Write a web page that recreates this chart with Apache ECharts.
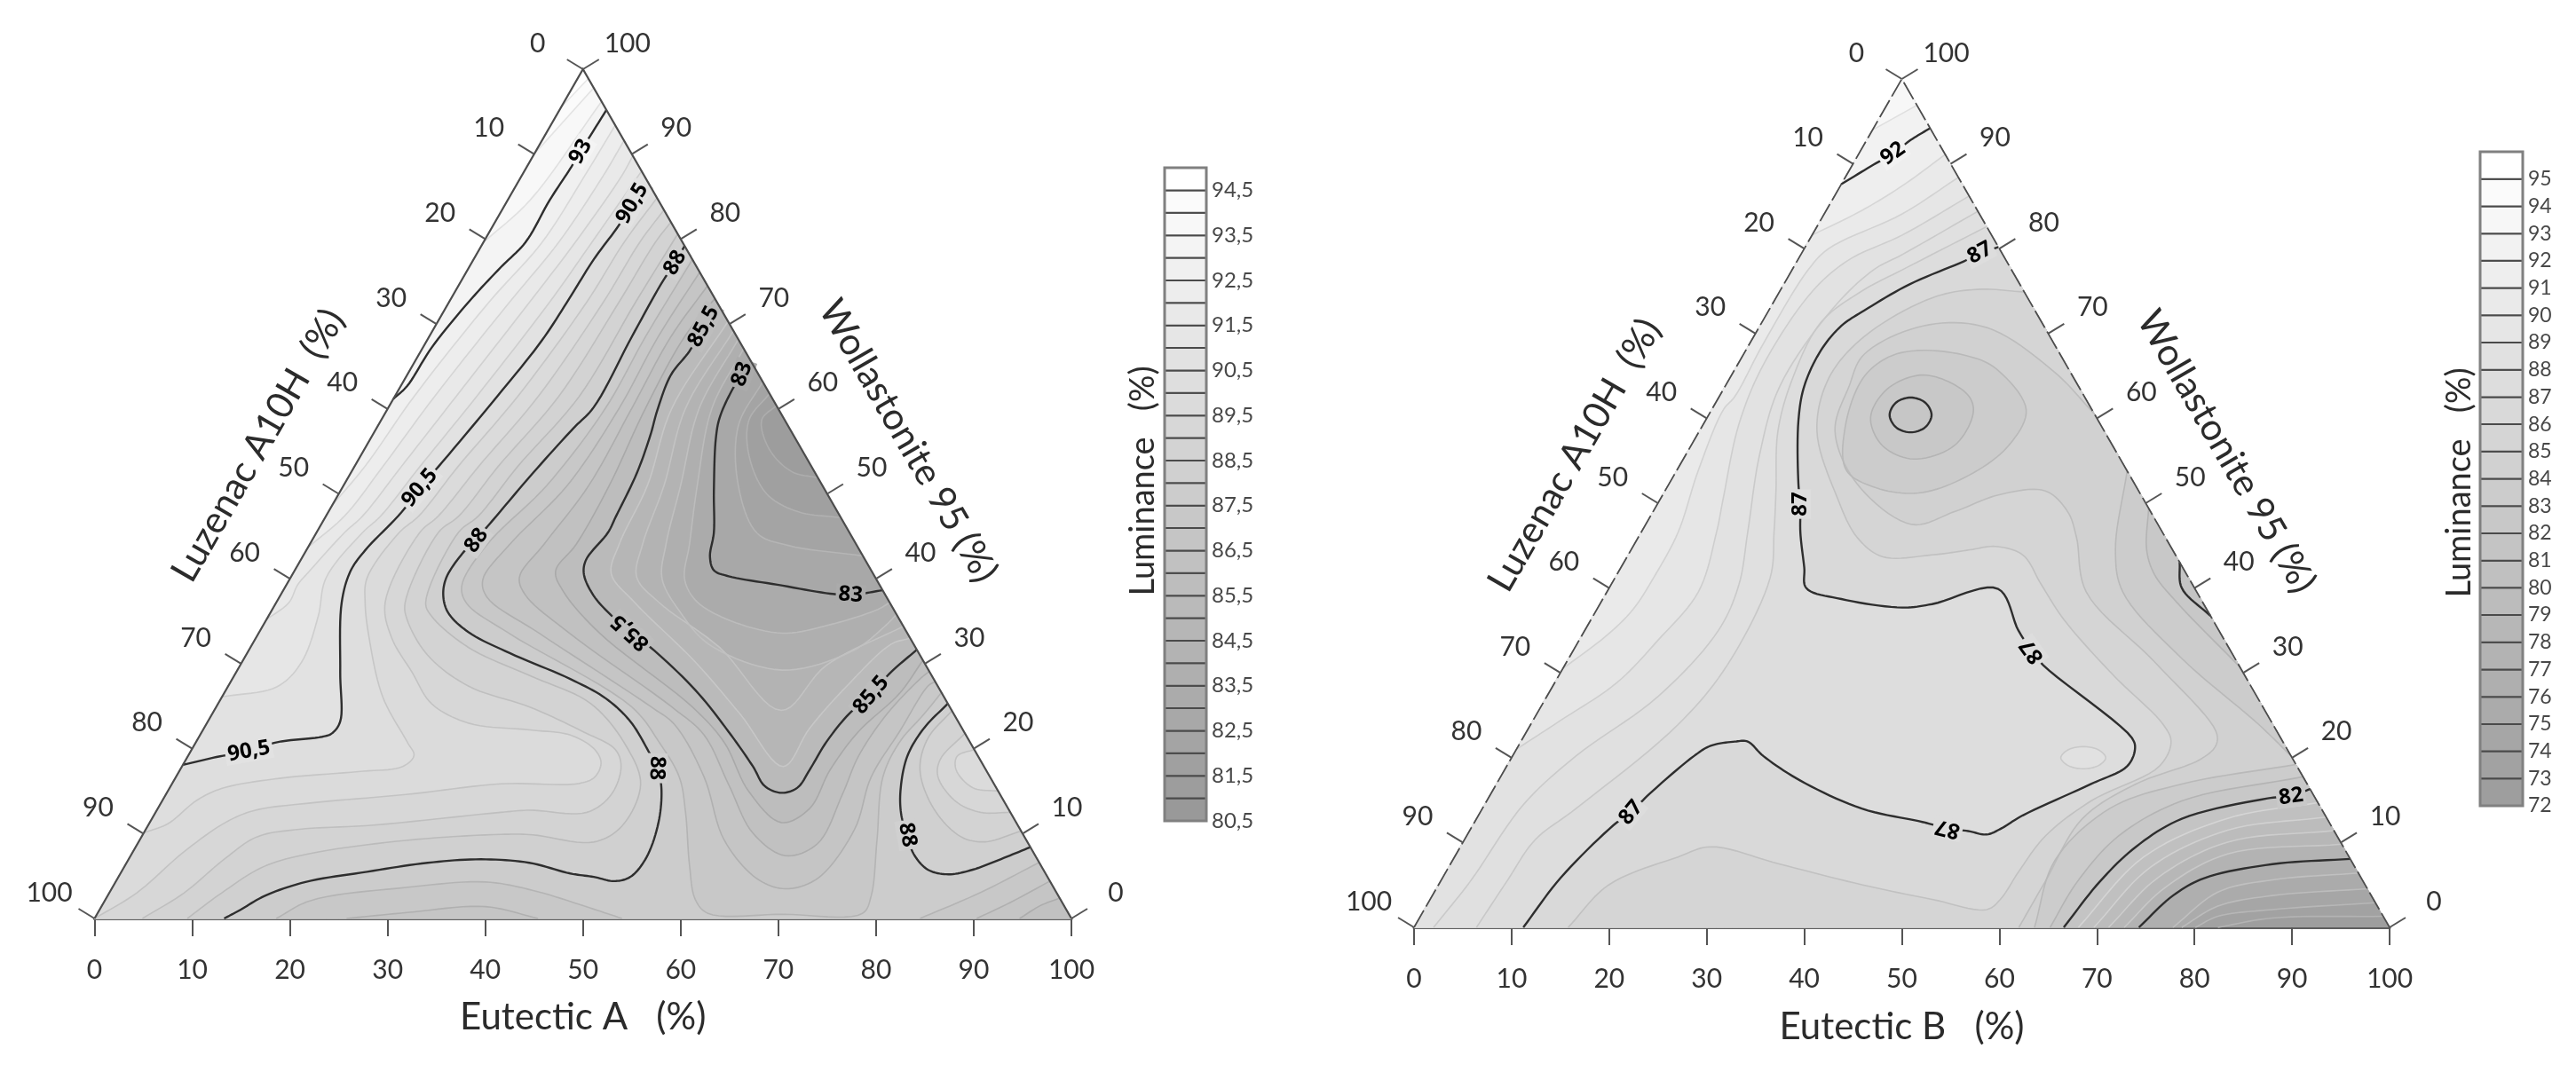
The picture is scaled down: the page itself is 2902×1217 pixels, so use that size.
<!DOCTYPE html>
<html><head><meta charset="utf-8">
<style>html,body{margin:0;background:#fff}#main{width:2902px;height:1217px;filter:blur(0.7px)}</style>
<script src="https://cdn.jsdelivr.net/npm/echarts@6/dist/echarts.min.js"></script>
</head><body><div id="main"></div>
<script>
/* All contour points are [x, w]: w = Wollastonite %, x = Eutectic % + w/2 (position along the base scale). */
const TICKS=[0,10,20,30,40,50,60,70,80,90,100];
const L_=[[0,0]], T_=[[50,100]], R_=[[100,0]];

/* ---------- Eutectic A ---------- */
const A_945=[[50.4,98.9],[48.1,95.5]];
const A_94=[[50.8,97.8],[45,90]];
const A_935=[[51.6,96.2],[44.6,84.6],[40,79.6]];
const A_93=[[52.2,95.2],[49.8,90.4],[48.7,88.3],[46.6,84.6],[44.1,79.6],[41.6,76.7],[38.3,72.6],[34.5,67.2],[32,62.7],[30.6,61.2]];
const A_925=[[53.3,93.4],[50.2,87.5],[45.8,79.6],[40.4,72.6],[32.7,61.45],[27.66,53.2],[23.7,48.65]];
const A_92=[[54.2,91.6],[52.1,87.5],[47.5,79.6],[42.5,72.6],[34.8,61.45],[29.5,53.2],[25.6,47.4],[22.86,43.7]];
const A_915=[[55.1,89.8],[54,87.5],[49.2,79.6],[44.55,72.6],[37,61.45],[31.4,53.2],[27.45,47.4],[25.6,45.45],[22,40.9],[20.8,39.3],[19.9,37.2],[17.85,35.2]];
const A_91=[[56,88],[50.9,79.6],[46.6,72.6],[39.1,61.45],[33.3,53.2],[29.3,47.4],[27.45,45.45],[23.7,40.1],[22.9,35.6],[21.2,30.2],[18.7,27.3],[13.6,26.1]];
const A_905=[[56.8,86.3],[55.06,84.2],[53.6,81.5],[51.1,77.6],[48.6,73],[45.8,68.07],[41.2,61.45],[35.2,53.2],[33.3,50.7],[31.4,47.8],[27.7,43.35],[26.2,40.9],[25.3,37.2],[25.15,29],[25.15,23.2],[24.3,21.8],[23.3,21.4],[18.7,20.76],[15.8,19.7],[12.85,19.1],[9.2,18.1]];
const A_90=[[57.6,84.84],[54.2,79.6],[50.4,72.6],[43.3,61.45],[37.2,53.2],[33.2,47.4],[31.2,45.45],[27.9,40.1],[27.7,37.2],[28.1,33.1],[29.5,26.1],[32,20.8],[32.7,19.2],[31.55,17.9],[27,17.3],[18.9,16.5],[13,15.3],[10.45,13.9],[7.5,11.15],[5.1,10.1]];
const A_895=[[58.3,83.43],[55.8,79.6],[52.1,72.6],[45.4,61.45],[39.3,53.2],[35.2,47.4],[33.3,45.45],[29.75,37.2],[30.4,33.1],[32.5,29],[34.5,25.3],[38.3,23],[44.55,22.2],[48.7,21.6],[51.2,19.9],[51.85,18.3],[51.2,16.65],[49.6,15.9],[41.6,15.85],[31.9,14.6],[22.1,13.6],[16.3,12.7],[13.4,11.3],[9.15,7.85],[4.3,3],[0.8,0.4]];
const A_89=[[59,82],[57.4,79.6],[53.7,72.6],[47.5,61.45],[41.3,53.2],[37.3,47.4],[35.2,45.45],[31.8,37.2],[32,35.2],[34.1,31],[38.3,27.35],[44.55,24.9],[50,22],[53.3,19.9],[53.9,17.9],[52.9,14.6],[50.4,12.5],[44.55,12.75],[41.6,12.5],[28.6,11],[20.5,10.45],[16.6,9.6],[13.4,7.1],[9.15,3],[4.9,0]];
const A_885=[[59.7,80.6],[55.4,72.6],[49.6,61.45],[43.3,53.2],[39.3,47.4],[37.25,45.45],[33.9,37.2],[34.5,35.6],[38.3,31.9],[44.55,28.6],[50.8,25.3],[54.4,20.35],[55.9,15.8],[54,10.9],[51.1,9],[44.84,9.85],[41.6,9.9],[31.9,9.2],[22.1,7.65],[17.3,6.1],[13,3],[9.5,0]];
const A_88=[[60.4,79.2],[59.44,77.2],[58.2,75.1],[55,68.5],[51.1,60.2],[49,57.7],[44.84,52.4],[40.4,46.4],[39.1,44.7],[37.67,43],[36,40.1],[35.7,38],[36.2,36],[38.3,33.7],[42.5,31.25],[48.7,28.2],[52.35,25.9],[54.85,23.2],[56.7,19.7],[57.56,17.7],[58,15.8],[57.8,11.7],[56.5,7.2],[54.85,4.9],[53.2,4.4],[51.1,4.9],[48.7,5.3],[44.5,6.56],[39.55,6.97],[34.1,6.56],[27.9,5.5],[21.6,4.3],[17.4,2.65],[14.9,1],[13.27,0]];
const A_88R=[[87.4,25.3],[84.9,22.4],[83.2,19.1],[82.5,15],[82.6,12.1],[83.2,9.85],[83.85,7.6],[85.3,5.75],[87.4,5.2],[89.9,5.75],[92.8,7],[95.8,8.4]];
const A_885R=[[87.8,24.46],[85.3,21.2],[84.5,17.5],[85.9,12.95],[88.65,9.65],[91.15,9.03],[94.8,10.3]];
const A_89R=[[89.1,21.8],[86.56,18.7],[86.35,16.65],[88.2,13.75],[90.7,12.5],[93.7,12.5]];
const A_895R=[[90.05,19.9],[88.3,19.1],[88.2,17.5],[89.9,15.4],[92.5,15]];
const A_875=[[61.2,77.6],[56.4,68.5],[52.3,60.08],[46.3,51],[40.2,44.05],[37.6,39.2],[38.1,37.1],[42.4,33.6],[55,24.9],[57.8,20.75],[59.86,16.65],[60.5,12.5],[60.9,6.35],[61.5,2.24],[62.8,0.6],[70.5,0.5],[78.6,0.6],[79.5,2.65],[80.1,9.25],[80.7,16.65],[82.4,20.75],[84.9,24.05],[86.7,26.6]];
const A_87=[[61.95,76.1],[57.7,68.5],[53.7,60.08],[48.4,51],[42.5,44.05],[39.75,39.9],[40.2,37.8],[45.5,33.6],[57,24.9],[59.4,22.8],[62.4,16.65],[64.45,9.25],[67.8,4.7],[70.7,3.5],[74,4.7],[77.8,10.5],[79.5,16.65],[82.4,22],[85.3,27.35],[86.05,27.9]];
const A_865=[[62.75,74.5],[59,68.5],[55,60.08],[50.6,51],[46,44.05],[43.5,40.2],[44.1,38.1],[48.6,33.6],[59.1,24.9],[62.4,21.6],[64.9,15.8],[67.4,10.05],[70.7,7.4],[74,8.8],[76.55,14.6],[78.2,19.1],[81.1,24.05],[84.5,28.2],[85.45,29.1]];
const A_86=[[63.5,73],[60.4,68.5],[56.4,60.08],[52.7,51],[49.3,44.05],[47.2,40.9],[48,38.5],[51.7,33.6],[61.2,24.9],[64.45,20.75],[66.95,15],[70.3,11.3],[73.2,12.95],[75.3,17.5],[78.2,22],[82.4,26.5],[84.8,30.4]];
const A_855=[[64.3,71.4],[62.36,69.7],[60.9,66.8],[59,64],[57.6,59.8],[56.9,56.9],[55.5,52.4],[53.4,47.4],[52.56,45.45],[50.3,42.2],[50.1,40.5],[51.1,38],[52.8,35.8],[54.85,33.7],[56.94,31.9],[61.5,26.9],[64.9,22],[67.4,17.9],[68.6,15.6],[70.3,14.8],[71.95,15.4],[73.2,17.5],[74.9,20.75],[77.2,24.05],[79.5,26.3],[81.35,28.8],[84.2,31.65]];
const A_85=[[64.85,70.3],[59.1,60.08],[56.6,51],[53.7,44.05],[52.9,40.6],[55.3,37.2],[61.5,30.2],[66.1,24.05],[70.5,17.9],[73.2,22.4],[77,27.35],[81.55,32.3],[83.5,33]];
const A_845=[[65.4,69.2],[60.5,60.08],[58.3,51],[56.1,44.05],[55.5,40.2],[57.8,37.2],[64,31.9],[70.3,24.5],[74.9,29.8],[82.8,34.4]];
const A_84=[[65.9,68.2],[61.9,60.08],[60,51],[58.5,44.05],[58.1,40],[60,36],[63,32.2],[70.4,29.25],[77.6,31.5],[80.8,34.3],[82.1,35.8]];
const A_835=[[66.45,67.1],[63.2,60.08],[61.7,51],[60.9,44.05],[60.4,40],[61.5,37.5],[64.6,35.3],[70.4,33.6],[75.3,34.6],[80.2,36.4],[81.6,37.2]];
const A_83=[[67.2,65.6],[66.3,64.1],[65.3,62.3],[64,59],[63.6,56.5],[63.4,50.3],[63.4,45.45],[63,42.6],[63.4,41],[64.9,40.3],[69.9,39.3],[75.3,38.25],[77.4,38.1],[80.7,38.65]];
const A_825=[[68.3,63.2],[65.9,58],[65.9,51],[67.8,45.4],[71.1,43.9],[78.6,42.7]];
const A_82=[[69,61.8],[67,58.7],[67,54.5],[68.8,50],[72,47.9],[76.4,47.2]];
const A_815=[[69.8,60.4],[68.3,58.7],[69.1,55.2],[71.4,52.6],[74.05,51.9]];
const A_C875=[[96.7,6.6],[90.7,3.06],[84.5,0]];
const A_C87=[[97.8,4.4],[93.65,1.83],[90.3,0]];
const A_C865=[[98.8,2.4],[96.8,1.5],[94.7,0]];
const A_B875=[[54,0],[50.3,1.4],[44.9,3.3],[40,4.3],[31.9,3.65],[22.1,2.1],[18.6,0]];
const A_B87=[[45.4,0],[40,1.4],[32,0.7],[25.8,0]];
const A_LABELS=[[49.77,90.3,'93',60,93],[55.06,84.2,'90,5',60,90.5],[59.44,77.2,'88',60,88],[62.36,69.7,'85,5',62,85.5],[66.3,64.1,'83',70,83],[33.3,50.7,'90,5',50,90.5],[39.1,44.5,'88',55,88],[15.8,19.7,'90,5',10,90.5],[54.85,33.7,'85,5',138,85.5],[77.4,38.1,'83',-4,83],[79.5,26.3,'85,5',50,85.5],[57.56,17.7,'88',-92,88],[83.2,9.85,'88',-80,88]];

/* ---------- Eutectic B ---------- */
const B_93=[[51.5,96.9],[47.2,94]];
const B_92=[[52.9,94.2],[50.9,92.8],[49.1,91.2],[47.1,89.9],[43.8,87.6]];
const B_91=[[54.45,91.1],[50.04,87.4],[45.9,84.5],[40.85,81.6]];
const B_90=[[55.8,88.4],[50.04,84.1],[42.5,80],[40.4,77.5],[35.8,68.8],[32.9,62.6],[31.7,61],[29.15,53.9],[27.06,46.55],[24.55,41.2],[22.46,37.5],[19.95,34.6],[15.4,30.5]];
const B_89=[[56.9,86.2],[50.04,81.6],[44.6,78.7],[40.85,75],[35.8,66.3],[33.3,59.3],[31.7,50.6],[31,46.55],[29.15,39.55],[24.97,33.8],[20.8,28.85],[14.9,24.3],[10.7,21]];
const B_88=[[57.8,84.4],[50.04,79.3],[47.1,77.5],[42.9,72.9],[37.5,63.8],[35.4,55.6],[34.2,46.55],[33.3,40.4],[31.2,35],[25,27.2],[16.6,20.2],[11.2,14.45],[5.75,5.4],[2,0]];
const B_875=[[58.7,82.6],[50.04,77.5],[45.9,75],[41.7,71.3],[38.8,64.7],[37.3,58.5],[37.1,51.4],[36.9,46.55],[36.5,41.2],[32.1,30.9],[27.06,23.9],[16.6,14],[12.4,10.3],[9.5,5.4],[6.4,0]];
const B_87=[[59.9,80.2],[58,79.4],[56.34,78.5],[50.8,75.8],[46.13,72.7],[43.8,70.9],[41.7,68],[40,63.8],[39.4,59.7],[39.4,52.3],[39.6,49.9],[39.6,46.55],[40,42.4],[40.2,40],[43.8,38.7],[50.04,37.7],[53.1,38.1],[59.86,39.9],[61.95,35],[63.35,32.55],[64.5,30.9],[73.6,22.3],[73.9,21],[73.1,19],[69.4,16.9],[62.4,13.2],[60.1,11.6],[58.7,10.95],[56.8,11.35],[54.7,11.65],[52.2,12.4],[45.9,14],[39.6,17.3],[35.8,20.2],[34.2,21.9],[32.9,21.9],[30.4,21.4],[28.7,20.2],[24.1,15.7],[22.25,13.6],[20.4,12],[15,5.8],[11.2,0]];
const B_BUMP=[[68.6,21.3],[70.2,20.9],[70.9,20],[70.2,19.1],[68.6,18.7],[67,19.1],[66.3,20],[67,20.9]];
const B_86=[[62.5,74.9],[57.7,75.2],[53.1,74.2],[46.1,69.6],[42.5,64.7],[41.3,58.5],[43.4,50.6],[45.4,46],[48,43.7],[53.1,43.9],[57,44.5],[59.6,44.9],[62.4,43.9],[64.3,40.4],[66.6,36.3],[71.7,29.7],[76.8,23.9],[77.6,21.85],[76.4,19],[69.4,14.9],[64.7,10.75],[62,6.6],[60.1,3.3],[58.7,2.1],[53.1,3.3],[46,5],[37.5,7.45],[30.4,9.5],[27.06,8.3],[19.95,5],[15.8,0]];
const B_85=[[69.8,60.5],[65.6,65.5],[58.7,70.7],[52.2,70.9],[46.1,67.5],[44.6,63.8],[43.15,58.5],[45.4,52.3],[51,47.5],[55.4,49],[60,51],[64.7,51.45],[67,49],[67.9,46],[68.9,39.55],[75.9,31.3],[82.2,23.1],[82.2,21.45],[80.6,19.8],[74,16.9],[68.5,12.8],[64.7,5.4],[62,0]];
const B_84R=[[73.1,53.8],[71.9,44.5],[72.65,39.55],[78.7,31.7],[86.6,23.9],[89.9,20.2]];
const B_84C=[[90.4,19.2],[78.7,16.9],[71.3,14],[65.7,7.9],[63.6,0]];
const B_83R=[[75.3,49.4],[75.1,44.5],[75.9,41.6],[78.2,38.3],[84.65,30.7]];
const B_83C=[[91.1,17.75],[78.7,14.9],[72.2,10.75],[68,5.4],[65.2,0]];
const B_82R=[[78.5,43.05],[78.7,40],[81.6,36.7]];
const B_82C=[[91.85,16.3],[89.9,15.5],[87.5,15.2],[78.7,12.8],[74,9.5],[70.3,5.4],[66.6,0]];
const B_81=[[92.7,14.7],[83.4,12.85],[74.8,8.3],[68.1,0]];
const B_80=[[93.5,13],[83.4,11.45],[75.5,7.1],[69.7,0]];
const B_79=[[94.3,11.4],[83.4,10.05],[76.3,5.9],[71.2,0]];
const B_78=[[95.1,9.8],[83.4,8.65],[77,4.7],[72.8,0]];
const B_77=[[95.9,8.07],[88,7.45],[81,5.8],[77.8,3.75],[74.3,0]];
const B_76=[[96.8,6.4],[88,5.6],[82.4,4.15],[77.8,0]];
const B_75=[[97.7,4.55],[88,3.75],[82.4,2.5],[78.7,0]];
const B_74=[[98.55,2.9],[88,2.1],[82.4,1.3],[80.1,0]];
const B_73=[[99.35,1.3],[88,1.1],[82.4,0]];
const B_PIT84=[[51.7,68],[56.6,67.4],[59.6,65.9],[62.75,61],[60.8,56.6],[56.4,53],[51.7,51.2],[47.4,51.8],[44.3,53.9],[44.2,59],[46,64.7],[48.6,67.2]];
const B_PIT83=[[51.9,65.1],[55,64.2],[57,62.4],[57.3,60.5],[55.4,56.8],[51.2,55.2],[48,56.8],[46.8,60.1],[48.45,63.4]];
const B_PIT82=[[50.9,62.45],[52.4,61.85],[53.05,60.4],[52.4,58.95],[50.9,58.35],[49.4,58.95],[48.75,60.4],[49.4,61.85]];
const B_LABELS=[[49.1,91.2,'92',35,92],[58,79.5,'87',28,87],[39.6,49.9,'87',90,87],[22.25,13.5,'87',50,87],[54.7,11.65,'87',166,87],[63.35,32.55,'87',126,87],[89.9,15.4,'82',8,82]];

const A_BAR=[80.5,81,81.5,82,82.5,83,83.5,84,84.5,85,85.5,86,86.5,87,87.5,88,88.5,89,89.5,90,90.5,91,91.5,92,92.5,93,93.5,94,94.5,95];
const B_BAR=[72,73,74,75,76,77,78,79,80,81,82,83,84,85,86,87,88,89,90,91,92,93,94,95,96];

/* ---------- grey scales: band [lo, lo+step] -> grey ---------- */
const grayA=l=>153+(l+0.25-80.75)/14*102;
const grayB=l=>158+(l+0.5-72.5)/23*97;
function hex(g){g=Math.max(0,Math.min(255,Math.round(g)));return 'rgb('+g+','+g+','+g+')';}
const bandA=l=>hex(grayA(l));
const bandB=l=>hex(grayB(l));
const thinA=l=>hex(l>=85.5?grayA(l)-24:grayA(l)+13);
const thinB=l=>hex(l>=82?grayB(l)-24:grayB(l)+17);

/* regions are "value above level" outlines, painted lowest to highest */
const A_REGIONS=[[81.5,[A_815,R_,L_,T_]],[82,[A_82,R_,L_,T_]],[82.5,[A_825,R_,L_,T_]],[83,[A_83,R_,L_,T_]],[83.5,[A_835,R_,L_,T_]],[84,[A_84,R_,L_,T_]],[84.5,[A_845,R_,L_,T_]],[85,[A_85,R_,L_,T_]],[85.5,[A_855,R_,L_,T_]],[86,[A_86,R_,L_,T_]],
[86.5,[A_865,A_C865,L_,T_]],[87,[A_87,A_C87,A_B87,L_,T_]],[87.5,[A_875,A_C875,A_B875,L_,T_]],
[88,[A_88,L_,T_]],[88,[A_88R]],[88.5,[A_885,L_,T_]],[88.5,[A_885R]],[89,[A_89,L_,T_]],[89,[A_89R]],[89.5,[A_895,T_]],[89.5,[A_895R]],
[90,[A_90,T_]],[90.5,[A_905,T_]],[91,[A_91,T_]],[91.5,[A_915,T_]],[92,[A_92,T_]],[92.5,[A_925,T_]],[93,[A_93,T_]],[93.5,[A_935,T_]],[94,[A_94,T_]],[94.5,[A_945,T_]]];
const A_THIN=[[94.5,A_945],[94,A_94],[93.5,A_935],[92.5,A_925],[92,A_92],[91.5,A_915],[91,A_91],[90,A_90],[89.5,A_895],[89,A_89],[88.5,A_885],[88.5,A_885R],[89,A_89R],[89.5,A_895R],[87.5,A_875],[87,A_87],[86.5,A_865],[86,A_86],[85,A_85],[84.5,A_845],[84,A_84],[83.5,A_835],[82.5,A_825],[82,A_82],[81.5,A_815],[87.5,A_C875],[87,A_C87],[86.5,A_C865],[87.5,A_B875],[87,A_B87]];
const A_MAJOR=[A_93,A_905,A_88,A_88R,A_855,A_83];

const B_REGIONS=[[73,[B_73,L_,T_]],[74,[B_74,L_,T_]],[75,[B_75,L_,T_]],[76,[B_76,L_,T_]],[77,[B_77,L_,T_]],[78,[B_78,L_,T_]],[79,[B_79,L_,T_]],[80,[B_80,L_,T_]],[81,[B_81,L_,T_]],
[82,[B_82R,B_82C,L_,T_]],[83,[B_83R,B_83C,L_,T_]],[84,[B_84R,B_84C,L_,T_]],[85,[B_85,L_,T_]],[86,[B_86,L_,T_]],[87,[B_87,L_,T_]],[87.6,[B_875,L_,T_]],[88.2,[B_88,L_,T_]],[89,[B_89,T_]],[90,[B_90,T_]],[91,[B_91,T_]],[92,[B_92,T_]],[93,[B_93,T_]]];
const B_CLOSED=[[88,B_BUMP],[83,B_PIT84],[82,B_PIT83],[81.5,B_PIT82]];
const B_THIN=[[93,B_93],[91,B_91],[90,B_90],[89,B_89],[88.2,B_88],[87.6,B_875],[86,B_86],[85,B_85],[84,B_84R],[84,B_84C],[83,B_83R],[83,B_83C],[81,B_81],[80,B_80],[79,B_79],[78,B_78],[76,B_76],[75,B_75],[74,B_74],[73,B_73]];
const B_THIN_CLOSED=[[88,B_BUMP],[84,B_PIT84],[83,B_PIT83]];
const B_MAJOR=[B_92,B_87,B_82R,B_82C,B_77];

/* ---------- drawing helpers ---------- */
function bar(p,q){const d=Math.hypot(p[0]-q[0],(p[1]-q[1])*0.87);return Math.max(Math.sqrt(d),1e-3);}
function smooth(pts,closed){
  const n=pts.length,out=[];
  if(n<3&&!closed){return pts.slice();}
  const at=i=>{
    if(closed)return pts[(i+n)%n];
    if(i<0)return [2*pts[0][0]-pts[1][0],2*pts[0][1]-pts[1][1]];
    if(i>=n)return [2*pts[n-1][0]-pts[n-2][0],2*pts[n-1][1]-pts[n-2][1]];
    return pts[i];
  };
  const last=closed?n:n-1;
  for(let i=0;i<last;i++){
    const p0=at(i-1),p1=at(i),p2=at(i+1),p3=at(i+2);
    const t0=0,t1=t0+bar(p0,p1),t2=t1+bar(p1,p2),t3=t2+bar(p2,p3);
    for(let s=0;s<10;s++){
      const t=t1+(t2-t1)*s/10,m=(a,b,ta,tb)=>[0,1].map(k=>(tb-t)/(tb-ta)*a[k]+(t-ta)/(tb-ta)*b[k]);
      const a1=m(p0,p1,t0,t1),a2=m(p1,p2,t1,t2),a3=m(p2,p3,t2,t3);
      const b1=m(a1,a2,t0,t2),b2=m(a2,a3,t1,t3);
      out.push(m(b1,b2,t1,t2));
    }
  }
  if(!closed)out.push(pts[n-1]);
  return out;
}
function inside(p){
  const w=Math.max(0,Math.min(100,p[1]));
  return [Math.max(w/2,Math.min(100-w/2,p[0])),w];
}
function snapEnds(pts){
  const s=p=>{let w=p[1],x=p[0];if(w<0.8)w=0;if(x-w/2<1.1)x=w/2;if(100-w/2-x<1.1)x=100-w/2;return [x,w];};
  const c=pts.slice();c[0]=s(c[0]);c[c.length-1]=s(c[c.length-1]);return c;
}
function openPts(api,line){return smooth(snapEnds(line),false).map(inside).map(p=>api.coord(p));}

function contourSeries(ax,baseColor,band,thinColor,regions,closedFills,thin,thinClosed,major,labels,dashed){
  const items=[];
  items.push({k:'base'});
  regions.forEach(r=>items.push({k:'reg',r}));
  closedFills.forEach(r=>items.push({k:'cf',r}));
  thin.forEach(l=>items.push({k:'thin',l}));
  thinClosed.forEach(l=>items.push({k:'thinc',l}));
  major.forEach(l=>items.push({k:'maj',l}));
  if(closedFills.length)items.push({k:'majc',l:B_PIT82});
  labels.forEach(l=>items.push({k:'lab',l}));
  items.push({k:'edge'});
  TICKS.forEach(t=>items.push({k:'tick',t}));
  return {type:'custom',xAxisIndex:ax,yAxisIndex:ax,silent:true,animation:false,clip:false,
    data:items.map((_,i)=>[i,0]),
    renderItem(params,api){
      const it=items[params.dataIndex];
      if(it.k==='base'){
        return {type:'polygon',shape:{points:[[0,0],[100,0],[50,100]].map(p=>api.coord(p))},style:{fill:baseColor}};
      }
      if(it.k==='reg'){
        let pts=[];
        it.r[1].forEach(seg=>{pts=pts.concat(seg.length>1?openPts(api,seg):seg.map(p=>api.coord(p)));});
        return {type:'polygon',shape:{points:pts},style:{fill:band(it.r[0]),stroke:band(it.r[0]),lineWidth:0.5}};
      }
      if(it.k==='cf'){
        return {type:'polygon',shape:{points:smooth(it.r[1],true).map(p=>api.coord(p))},style:{fill:band(it.r[0])}};
      }
      if(it.k==='thin'){
        return {type:'polyline',shape:{points:openPts(api,it.l[1])},style:{fill:null,stroke:thinColor(it.l[0]),lineWidth:1.6}};
      }
      if(it.k==='thinc'){
        return {type:'polygon',shape:{points:smooth(it.l[1],true).map(p=>api.coord(p))},style:{fill:null,stroke:thinColor(it.l[0]),lineWidth:1.6}};
      }
      if(it.k==='maj'){
        return {type:'polyline',shape:{points:openPts(api,it.l)},style:{fill:null,stroke:'#2e2e2e',lineWidth:2.4}};
      }
      if(it.k==='majc'){
        return {type:'polygon',shape:{points:smooth(it.l,true).map(p=>api.coord(p))},style:{fill:null,stroke:'#2e2e2e',lineWidth:2.4}};
      }
      if(it.k==='lab'){
        const c=api.coord([it.l[0],it.l[1]]);
        return {type:'text',x:c[0],y:c[1],rotation:it.l[3]*Math.PI/180,
          style:{text:it.l[2],fontFamily:'"Noto Sans"',fontSize:24,fontWeight:'bold',fill:'#000',align:'center',verticalAlign:'middle',backgroundColor:band(it.l[4]),padding:[0,3]}};
      }
      if(it.k==='edge'){
        const a=api.coord([0,0]),b=api.coord([50,100]),c=api.coord([100,0]);
        const st={fill:null,stroke:'#4d4d4d',lineWidth:dashed?1.8:2.2};
        if(dashed)st.lineDash=[22,5];
        return {type:'polyline',shape:{points:[a,b,c]},style:st};
      }
      if(it.k==='tick'){
        const t=it.t;
        const lp=api.coord([(100-t)/2,100-t]),rp=api.coord([100-t/2,t]);
        const font={fontFamily:'Lato',fontSize:30,fill:'#333',align:'center',verticalAlign:'middle'};
        const ln=(p,dx)=>({type:'line',shape:{x1:p[0],y1:p[1],x2:p[0]+dx,y2:p[1]-11},style:{stroke:'#555',lineWidth:2}});
        return {type:'group',children:[ln(lp,-18),ln(rp,18),
          {type:'text',x:lp[0]-51,y:lp[1]-29,style:Object.assign({text:String(t)},font)},
          {type:'text',x:rp[0]+50,y:rp[1]-29,style:Object.assign({text:String(t)},font)}]};
      }
    }};
}
function barSeries(ax,levels,band){
  const items=levels.slice(0,-1).map((v,i)=>[v,levels[i+1]]);
  return {type:'custom',xAxisIndex:ax,yAxisIndex:ax,silent:true,animation:false,clip:false,
    data:items,
    renderItem(params,api){
      const lo=items[params.dataIndex][0],hi=items[params.dataIndex][1];
      const a=api.coord([0,hi]),b=api.coord([1,lo]);
      return {type:'rect',shape:{x:a[0],y:a[1],width:b[0]-a[0],height:b[1]-a[1]},style:{fill:band(lo),stroke:'#4a4a4a',lineWidth:2}};
    }};
}
function frameSeries(ax,lo,hi){
  return {type:'custom',xAxisIndex:ax,yAxisIndex:ax,silent:true,animation:false,clip:false,data:[[0,lo]],
    renderItem(params,api){
      const a=api.coord([0,hi]),b=api.coord([1,lo]);
      return {type:'rect',shape:{x:a[0],y:a[1],width:b[0]-a[0],height:b[1]-a[1]},style:{fill:null,stroke:'#808080',lineWidth:3}};
    }};
}
function baseAxis(i,name,gap){
  return {gridIndex:i,type:'value',min:0,max:100,interval:10,
    axisLine:{onZero:false,lineStyle:{color:'#5e5e5e',width:3}},
    axisTick:{length:20,lineStyle:{color:'#555',width:2}},splitLine:{show:false},
    axisLabel:{margin:43,fontFamily:'Lato',fontSize:30,color:'#333',showMinLabel:true,showMaxLabel:true},
    name,nameLocation:'middle',nameGap:gap,nameTextStyle:{fontFamily:'Lato',fontSize:42,color:'#2b2b2b'}};
}
const hiddenY={type:'value',min:0,max:100,show:false};
const titleStyle={fontFamily:'Lato',fontSize:42,fill:'#2b2b2b',align:'center',verticalAlign:'middle'};
const barTitle={fontFamily:'Lato',fontSize:38,fill:'#2b2b2b',align:'center',verticalAlign:'middle'};
function rotText(text,x,y,deg,st){return {type:'text',x,y,rotation:deg*Math.PI/180,silent:true,style:Object.assign({text},st)};}

const chart=echarts.init(document.getElementById('main'),null,{renderer:'canvas',width:2902,height:1217});
chart.setOption({
  animation:false,backgroundColor:'#fff',
  grid:[
    {left:106.5,top:78,width:1100.5,height:957},
    {left:1593,top:89,width:1099,height:956},
    {left:1312,top:189,width:47,height:736},
    {left:2794,top:171,width:48,height:737}
  ],
  xAxis:[baseAxis(0,'Eutectic A   (%)',90),baseAxis(1,'Eutectic B   (%)',91),
    {gridIndex:2,type:'value',min:0,max:1,show:false},{gridIndex:3,type:'value',min:0,max:1,show:false}],
  yAxis:[Object.assign({gridIndex:0},hiddenY),Object.assign({gridIndex:1},hiddenY),
    {gridIndex:2,type:'value',position:'right',min:80.5,max:95,interval:0.5,axisLine:{show:false},axisTick:{show:false},splitLine:{show:false},
     axisLabel:{margin:6,fontFamily:'Lato',fontSize:24,color:'#484848',formatter:v=>(Math.round(v*2)%2===1?String(v).replace('.',','):'')}},
    {gridIndex:3,type:'value',position:'right',min:72,max:96,interval:1,axisLine:{show:false},axisTick:{show:false},splitLine:{show:false},
     axisLabel:{margin:6,fontFamily:'Lato',fontSize:23,color:'#484848',formatter:v=>(v===96?'':String(v))}}],
  series:[
    contourSeries(0,bandA(81),bandA,thinA,A_REGIONS,[],A_THIN,[],A_MAJOR,A_LABELS,false),
    contourSeries(1,bandB(72),bandB,thinB,B_REGIONS,B_CLOSED,B_THIN,B_THIN_CLOSED,B_MAJOR,B_LABELS,true),
    barSeries(2,A_BAR,v=>bandA(v)),frameSeries(2,80.5,95),
    barSeries(3,B_BAR,v=>bandB(v)),frameSeries(3,72,96)
  ],
  graphic:{elements:[
    rotText('Luzenac A10H  (%)',291,502,60,titleStyle),
    rotText('Wollastonite 95 (%)',1023,497,-60,titleStyle),
    rotText('Luzenac A10H  (%)',1774,513,60,titleStyle),
    rotText('Wollastonite 95 (%)',2508,509,-60,titleStyle),
    rotText('Luminance   (%)',1288,542,90,barTitle),
    rotText('Luminance   (%)',2771,544,90,barTitle)
  ]}
});
</script></body></html>
